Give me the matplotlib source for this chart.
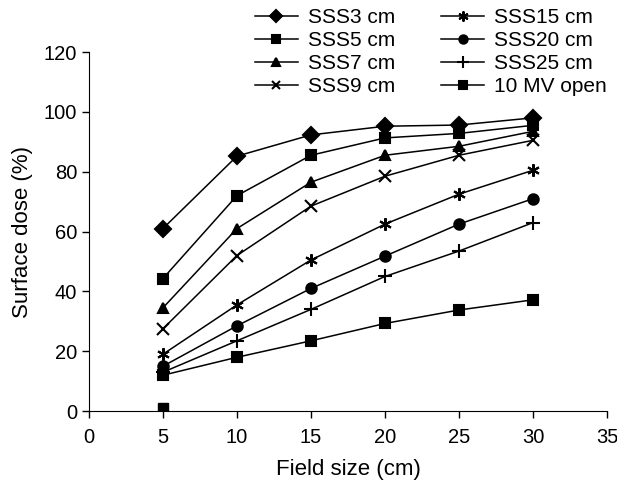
import matplotlib
matplotlib.use("Agg")
import matplotlib.pyplot as plt

plt.rcParams['font.family'] = ['Liberation Sans', 'DejaVu Sans']

field_size = [5, 10, 15, 20, 25, 30]

sss3 = [61, 85.2, 92.3, 95.2, 95.6, 98]
sss5 = [44.3, 72, 85.5, 91.3, 92.8, 95.5]
sss7 = [34.5, 61, 76.5, 85.5, 88.5, 93.5]
sss9 = [27.5, 52, 68.5, 78.5, 85.5, 90.5]
sss15 = [19, 35.5, 50.5, 62.5, 72.5, 80.5]
sss20 = [15, 28.5, 41, 51.8, 62.5, 71]
sss25 = [13, 23.5, 34, 45, 53.5, 63]
open_10mv = [12, 18, 23.5, 29.3, 33.8, 37.2]

# lone square sitting on the x axis in the original
stray_x = [5]
stray_y = [1]

series = [
    ("SSS3 cm", sss3, "D", 8),
    ("SSS5 cm", sss5, "s", 7.5),
    ("SSS7 cm", sss7, "^", 7.5),
    ("SSS9 cm", sss9, "x", 8),
    ("SSS15 cm", sss15, (6, 2, 0), 9),
    ("SSS20 cm", sss20, "o", 7.5),
    ("SSS25 cm", sss25, "+", 10),
    ("10 MV open", open_10mv, "s", 6.5),
]

fig = plt.figure(figsize=(6.17, 4.86), dpi=100)
ax = fig.add_axes([0.144, 0.154, 0.84, 0.739])

for label, vals, mk, ms in series:
    ax.plot(field_size, vals, color="black", lw=1.1, marker=mk, ms=ms,
            mew=1.5, label=label)
ax.plot(stray_x, stray_y, ls="none", marker="s", ms=7.5, color="black")

ax.set_xlim(0, 35)
ax.set_ylim(0, 120)
ax.set_xticks(range(0, 36, 5))
ax.set_yticks(range(0, 121, 20))
ax.spines["top"].set_visible(False)
ax.spines["right"].set_visible(False)
ax.tick_params(labelsize=14.5, length=5, width=1, direction="out")
ax.tick_params(axis="x", pad=7)
ax.set_xlabel("Field size (cm)", fontsize=16, labelpad=9)
ax.set_ylabel("Surface dose (%)", fontsize=16, labelpad=8)

handles, labels = ax.get_legend_handles_labels()
fig.legend(handles, labels, loc="upper right", bbox_to_anchor=(1.0, 1.005),
           ncol=2, frameon=False, fontsize=15, handlelength=2.1,
           handletextpad=0.45, columnspacing=2.2, labelspacing=0.2,
           markerscale=0.8, borderaxespad=0.1)

fig.savefig("out.png", dpi=100)
